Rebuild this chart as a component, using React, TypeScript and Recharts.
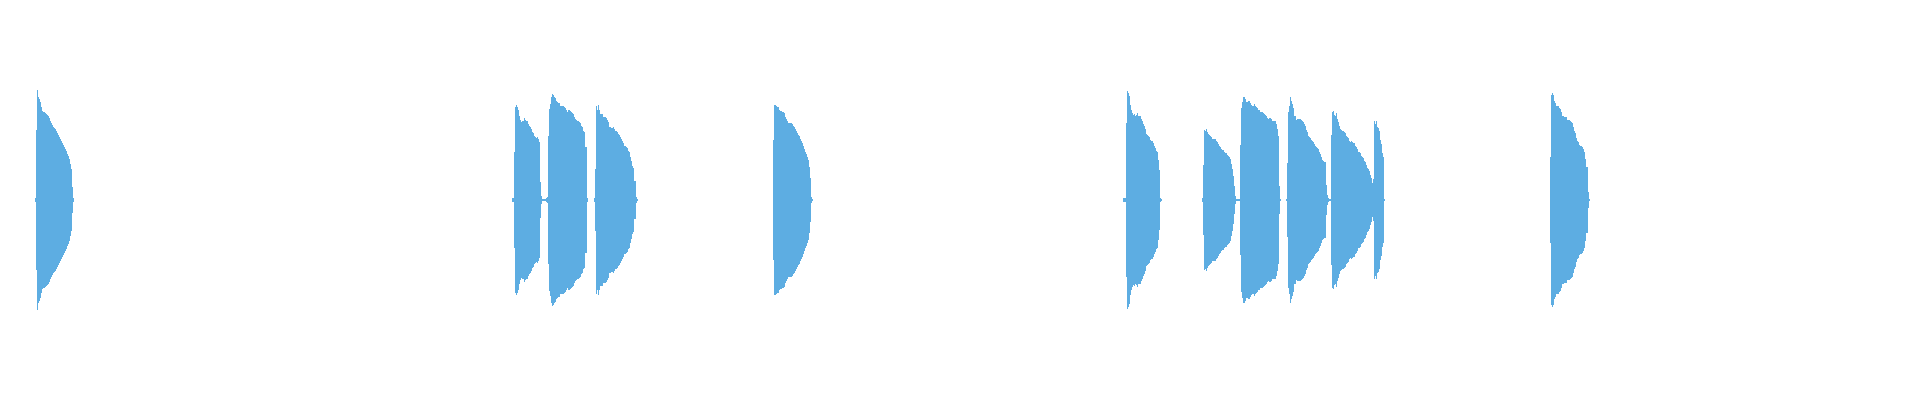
import { AreaChart, Area, XAxis, YAxis } from 'recharts';

// sample index where each clip begins, and its peak amplitude per sample column
const clipStarts = [35, 512, 594, 773, 1123, 1202, 1286, 1550];

const clip1 = [2, 70, 110, 103, 101, 98, 93, 89, 88, 88, 87, 86, 85, 84, 82, 79, 77, 75, 73, 72, 71, 69, 67, 65, 63, 61, 59, 57, 55, 53, 51, 49, 46, 44, 41, 36, 31, 13, 2];
const clip2 = [2, 2, 48, 93, 95, 93, 90, 84, 80, 78, 79, 79, 82, 80, 79, 79, 76, 74, 73, 71, 68, 67, 64, 63, 62, 63, 61, 58, 18, 4, 1, 1, 1, 1, 2, 3, 64, 91, 96, 103, 106, 105, 103, 102, 99, 98, 97, 97, 94, 94, 94, 94, 93, 92, 90, 88, 90, 90, 89, 88, 87, 86, 83, 81, 80, 79, 79, 78, 77, 74, 73, 69, 68, 53, 53, 2];
const clip3 = [2, 31, 94, 90, 95, 90, 86, 86, 86, 83, 83, 83, 82, 80, 78, 73, 73, 72, 72, 73, 71, 69, 69, 68, 66, 65, 63, 61, 59, 57, 54, 54, 53, 52, 49, 48, 43, 39, 34, 32, 19, 19, 3, 1];
const clip4 = [60, 95, 95, 94, 93, 93, 90, 89, 89, 88, 88, 87, 83, 81, 79, 77, 77, 77, 77, 76, 74, 73, 71, 69, 67, 65, 64, 61, 59, 57, 54, 51, 48, 46, 43, 40, 33, 22, 3, 1];
const clip5 = [2, 2, 2, 77, 109, 107, 104, 95, 90, 87, 85, 86, 84, 85, 87, 84, 84, 84, 81, 79, 76, 74, 71, 66, 65, 64, 63, 60, 59, 59, 57, 54, 52, 49, 48, 40, 30, 2, 1];
const clip6 = [2, 35, 70, 69, 71, 68, 66, 65, 64, 63, 61, 61, 61, 61, 59, 58, 56, 54, 53, 51, 50, 50, 48, 47, 47, 45, 44, 43, 41, 36, 31, 24, 14, 4, 1, 1, 1, 1, 55, 92, 98, 103, 103, 101, 98, 98, 99, 99, 97, 95, 94, 94, 96, 94, 93, 92, 90, 90, 88, 88, 88, 87, 86, 85, 84, 82, 81, 82, 82, 81, 79, 79, 79, 79, 76, 71, 64, 14, 1];
const clip7 = [1, 37, 88, 94, 103, 99, 96, 92, 84, 84, 80, 81, 81, 81, 81, 80, 79, 78, 76, 74, 70, 68, 64, 63, 62, 60, 59, 58, 56, 54, 53, 52, 51, 48, 46, 43, 40, 39, 38, 38, 15, 5, 2, 1, 1, 65, 88, 89, 85, 84, 87, 81, 78, 74, 71, 70, 69, 69, 68, 67, 64, 63, 62, 59, 58, 59, 58, 57, 57, 54, 53, 51, 48, 48, 47, 44, 43, 42, 39, 38, 35, 32, 31, 29, 25, 22, 17, 21, 79, 76, 79, 73, 72, 69, 60, 56, 47, 43, 1];
const clip8 = [43, 105, 107, 105, 99, 97, 94, 94, 94, 92, 91, 88, 84, 84, 83, 83, 83, 80, 80, 80, 79, 78, 77, 73, 69, 67, 62, 59, 58, 55, 54, 54, 53, 51, 48, 41, 33, 33, 8, 1];

const clips = [clip1, clip2, clip3, clip4, clip5, clip6, clip7, clip8];

// envelope [-a, a] per sample, with a break (null) between clips
const data: { t: number; range: number[] | null }[] = [];
clips.forEach((amps, c) => {
  const start = clipStarts[c];
  amps.forEach((a, i) => data.push({ t: start + i, range: [-a, a] }));
  const last = amps[amps.length - 1];
  data.push({ t: start + amps.length, range: [-last, last] });
  data.push({ t: start + amps.length + 0.5, range: null });
});

export default function App() {
  return (
    <div style={{ position: 'absolute', left: 0, top: 0, background: '#fff' }}>
      <AreaChart width={1920} height={400} data={data} margin={{ top: 0, right: 0, bottom: 0, left: 0 }}>
        <XAxis dataKey="t" type="number" domain={[0, 1920]} hide />
        <YAxis type="number" domain={[-200, 200]} hide />
        <Area
          type="stepAfter"
          dataKey="range"
          stroke="none"
          fill="#5DADE2"
          fillOpacity={1}
          dot={false}
          activeDot={false}
          isAnimationActive={false}
        />
      </AreaChart>
    </div>
  );
}
